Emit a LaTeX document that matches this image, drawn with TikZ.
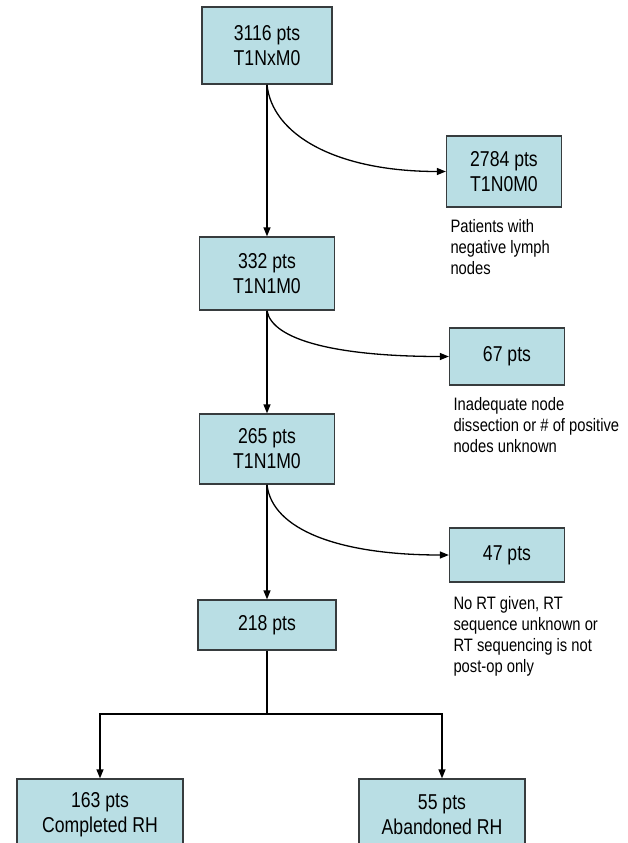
\documentclass[tikz,border=0pt]{standalone}
\usepackage{fontspec}
\setmainfont[FakeStretch=0.82]{Liberation Sans}
\usetikzlibrary{positioning, arrows.meta}
\definecolor{boxfill}{RGB}{185,222,228}
\definecolor{boxline}{RGB}{55,60,62}

\begin{document}
\begin{tikzpicture}[x=1pt, y=-1pt, >={Triangle[length=9pt,width=7pt]}, line width=1.3pt,
    box/.style={draw=boxline, fill=boxfill, align=center, inner sep=0pt,
      font=\fontsize{21.5}{25}\selectfont},
    main/.style={box, minimum width=135pt, minimum height=73pt},
    side/.style={box, minimum width=115pt, minimum height=57pt},
    note/.style={align=left, inner sep=0pt, font=\fontsize{18}{21}\selectfont},
    flow/.style={->, draw=black}]
  \useasboundingbox (0,0) rectangle (628,843);
  \clip (0,0) rectangle (628,843);

  % main column
  \node[main, minimum width=130pt, minimum height=77pt] (n3116) at (267,45.5) {3116 pts\\T1NxM0};
  \node[main] (n332) [below of=n3116, node distance=228pt] {332 pts\\T1N1M0};
  \node[main, minimum height=70pt] (n265) [below of=n332, node distance=175.5pt] {265 pts\\T1N1M0};
  \node[main, minimum width=138pt, minimum height=50pt] (n218) [below of=n265, node distance=176pt] {218 pts};
  \coordinate[below of=n218, node distance=89pt] (split);

  % excluded
  \node[side, minimum height=71pt] (n2784) [right of=n3116, node distance=237pt, yshift=-126pt] {2784 pts\\T1N0M0};
  \node[side] (n67) [right of=n332, node distance=240pt, yshift=-83pt] {67 pts};
  \node[side, minimum height=54pt] (n47) [right of=n265, node distance=240pt, yshift=-106pt] {47 pts};

  \node[note, below right=11pt and 4pt of n2784.south west] (t2784) {Patients with\\negative lymph\\nodes};
  \node[note, below right=11pt and 4pt of n67.south west] (t67) {Inadequate node\\dissection or \# of positive\\nodes unknown};
  \node[note, below right=13pt and 4pt of n47.south west] (t47) {No RT given, RT\\sequence unknown or\\RT sequencing is not\\post-op only};

  % outcome
  \node[box, minimum width=166pt, minimum height=72pt] (n163) at (100,815) {163 pts\\Completed RH};
  \node[box, minimum width=166pt, minimum height=72pt] (n55) at (442,815) {55 pts\\Abandoned RH};

  \draw[flow] (n3116) -- (n332);
  \draw[flow] (n332) -- (n265);
  \draw[flow] (n265) -- (n218);
  \draw[flow] (n3116.south) .. controls +(5,50) and +(-110,0) .. (n2784.west);
  \draw[flow] (n332.south) .. controls +(5,30) and +(-110,0) .. (n67.west);
  \draw[flow] (n265.south) .. controls +(5,45) and +(-110,0) .. (n47.west);
  \draw (n218) -- (split);
  \draw[flow] (split) -| (n163);
  \draw[flow] (split) -| (n55);
\end{tikzpicture}
\end{document}
